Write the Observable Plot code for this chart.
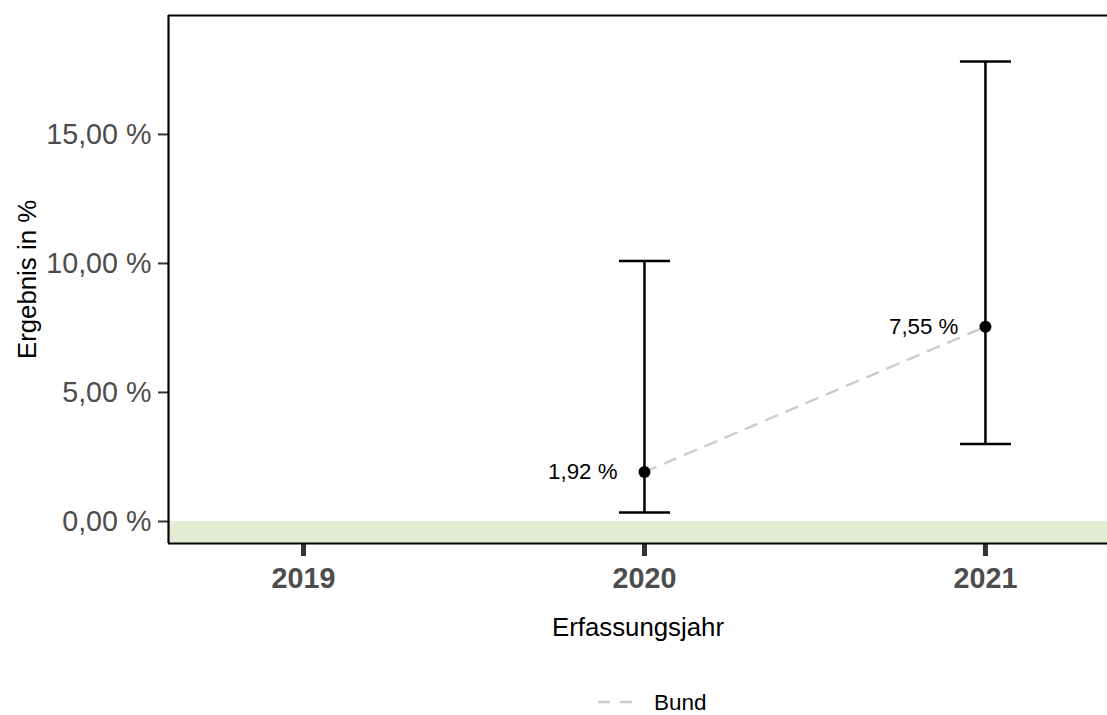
<!DOCTYPE html>
<html>
<head>
<meta charset="utf-8">
<script src="https://cdn.jsdelivr.net/npm/d3@7"></script>
<script src="https://cdn.jsdelivr.net/npm/@observablehq/plot@0.6"></script>
<style>
  html, body { margin: 0; padding: 0; background: #fff; }
  body { width: 1107px; height: 715px; position: relative; overflow: hidden; font-family: "Liberation Sans", Arial, Helvetica, sans-serif; }
  #chart { position: absolute; left: 0; top: 0; }
  #legend { position: absolute; left: 0; top: 670px; width: 1107px; height: 45px; }
</style>
</head>
<body>
<div id="chart"></div>
<div id="legend"></div>
<script>
// ---- data ----
const years = [2020, 2021];
const values = [1.92, 7.55];
const lower = [0.35, 3.00];
const upper = [10.10, 17.83];
const bundYears = [2020, 2021];
const bundValues = [1.92, 7.55];
const xTicks = [2019, 2020, 2021];
const yTicks = [0, 5, 10, 15];
const targetBand = [{y1: -0.853, y2: 0}];
const xDomain = [2018.604, 2021.358];
const yDomain = [-0.853, 19.61];

const pts = years.map((y, i) => ({year: y, value: values[i], lo: lower[i], hi: upper[i]}));
const bund = bundYears.map((y, i) => ({year: y, value: bundValues[i]}));
const fmt = v => v.toFixed(2).replace(".", ",") + " %";

const capSymbol = { draw(ctx, size) { ctx.moveTo(-25.5, 0); ctx.lineTo(25.5, 0); } };

const font = '"Liberation Sans", Arial, Helvetica, sans-serif';

const chart = Plot.plot({
  width: 1107,
  height: 670,
  marginLeft: 168,
  marginRight: 0,
  marginTop: 15,
  marginBottom: 127,
  style: { fontFamily: font, background: "#fff", overflow: "visible" },
  x: { domain: xDomain, axis: null },
  y: { domain: yDomain, axis: null },
  marks: [
    Plot.rect(targetBand, { y1: "y1", y2: "y2", x1: () => xDomain[0], x2: () => xDomain[1], fill: "#e4ecd4" }),
    // axes
    Plot.axisY(yTicks, {
      tickSize: 10, tickPadding: 7, tickFormat: fmt,
      stroke: "#333333", strokeWidth: 2,
      fill: "#4d4d4d", fontSize: 28.7, label: null
    }),
    Plot.axisX(xTicks, {
      tickSize: 13, tickPadding: 11, tickFormat: d => String(d),
      stroke: "#333333", strokeWidth: 5,
      fill: "#4d4d4d", fontSize: 28.7, fontWeight: "bold", label: null
    }),
    Plot.text(["Erfassungsjahr"], { frameAnchor: "bottom", dy: 84, fontSize: 25.8, fill: "#000", lineAnchor: "middle" }),
    Plot.text(["Ergebnis in %"], { frameAnchor: "left", dx: -141, rotate: -90, fontSize: 25.8, fill: "#000", lineAnchor: "middle", textAnchor: "middle" }),
    // panel borders (top, left, bottom)
    Plot.ruleY([yDomain[1]], { stroke: "#000", strokeWidth: 2.2 }),
    Plot.ruleY([yDomain[0]], { stroke: "#000", strokeWidth: 2.2 }),
    Plot.ruleX([xDomain[0]], { stroke: "#000", strokeWidth: 2.2 }),
    // Bund line
    Plot.line(bund, { x: "year", y: "value", stroke: "#cccccc", strokeWidth: 2.4, strokeDasharray: "12,10" }),
    // error bars
    Plot.ruleX(pts, { x: "year", y1: "lo", y2: "hi", stroke: "#000", strokeWidth: 2.5 }),
    Plot.dot(pts, { x: "year", y: "lo", symbol: capSymbol, stroke: "#000", strokeWidth: 2.5, r: 5 }),
    Plot.dot(pts, { x: "year", y: "hi", symbol: capSymbol, stroke: "#000", strokeWidth: 2.5, r: 5 }),
    Plot.dot(pts, { x: "year", y: "value", r: 6, fill: "#000" }),
    Plot.text(pts, { x: "year", y: "value", text: d => fmt(d.value), textAnchor: "end", dx: -27, fontSize: 22.3, fill: "#000" })
  ]
});
document.getElementById("chart").appendChild(chart);

// legend
const leg = d3.select("#legend").append("svg").attr("width", 1107).attr("height", 45)
  .style("font-family", font);
leg.append("line").attr("x1", 598).attr("x2", 633).attr("y1", 32).attr("y2", 32)
  .attr("stroke", "#cccccc").attr("stroke-width", 2.4).attr("stroke-dasharray", "12,10");
leg.append("text").attr("x", 654).attr("y", 32).attr("dy", "0.35em")
  .attr("font-size", 22.5).attr("fill", "#000").text("Bund");
</script>
</body>
</html>
